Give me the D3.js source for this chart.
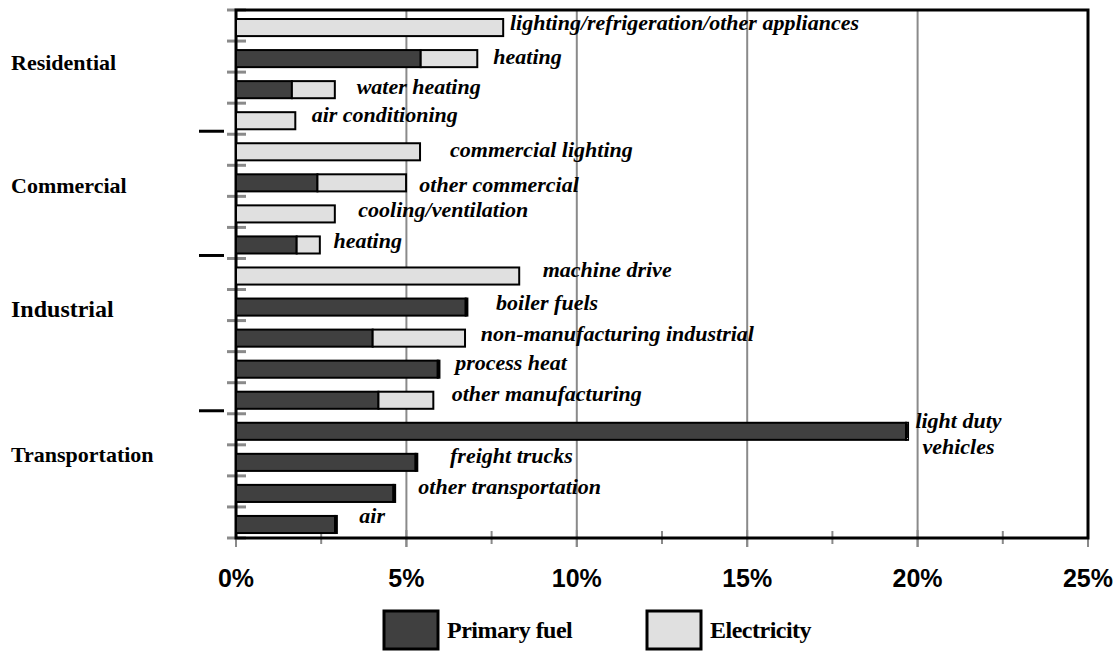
<!DOCTYPE html>
<html>
<head>
<meta charset="utf-8">
<script src="https://cdn.jsdelivr.net/npm/d3@7"></script>
<style>
  body { margin: 0; background: #fff; }
  svg { display: block; }
</style>
</head>
<body>
<svg id="chart" width="1120" height="654"></svg>
<script>
// end-use shares of total energy, percent
var sectors = ['Residential', 'Commercial', 'Industrial', 'Transportation'];
var sectorSize = [4, 4, 5, 4];
var uses = ['lighting/refrigeration/other appliances', 'heating', 'water heating', 'air conditioning',
  'commercial lighting', 'other commercial', 'cooling/ventilation', 'heating',
  'machine drive', 'boiler fuels', 'non-manufacturing industrial', 'process heat', 'other manufacturing',
  'light duty vehicles', 'freight trucks', 'other transportation', 'air'];
var primary = [0, 5.42, 1.64, 0, 0, 2.39, 0, 1.78, 0, 6.74, 4.01, 5.92, 4.18, 19.66, 5.27, 4.62, 2.91];
var electricity = [7.84, 1.66, 1.26, 1.74, 5.4, 2.6, 2.9, 0.68, 8.31, 0.05, 2.71, 0.05, 1.61, 0.06, 0.05, 0.05, 0.05];
var xTicks = [0, 5, 10, 15, 20, 25];
var xMinor = [2.5, 7.5, 12.5, 17.5, 22.5];
var series = ['Primary fuel', 'Electricity'];

// where the annotation text starts (in % units) and vertical nudge in px
var labelAt = [8.04, 7.55, 3.54, 2.22, 6.28, 5.38, 3.59, 2.86, 9.0, 7.63, 7.18, 6.43, 6.33, 21.2, 6.28, 5.35, 3.62];
var labelNudge = [4, 7, 6, 3, 7, 11, 5, 5, 3, 5, 5, 3, 3, -1, 3, 2.5, 1];
var sectorNudge = [-2, -3, -19, -14];

var svg = d3.select('#chart'),
  pLeft = 236, pRight = 1088, pTop = 10, pBottom = 538,
  dark = '#404040', light = '#e0e0e0', grey = '#8a8a8a';

var x = d3.scaleLinear().domain([0, 25]).range([pLeft, pRight]);
var idx = d3.range(uses.length);
var y = d3.scaleBand().domain(idx).range([pTop, pBottom]).padding(0);
var bw = y.bandwidth();

// grid lines
svg.selectAll('.grid').data(xTicks.slice(1, -1)).enter().append('line')
  .attr('x1', d => x(d)).attr('x2', d => x(d))
  .attr('y1', pTop).attr('y2', pBottom + 9)
  .attr('stroke', grey).attr('stroke-width', 2);

// bottom ticks
svg.selectAll('.mt').data(xTicks).enter().append('line')
  .attr('x1', d => x(d)).attr('x2', d => x(d))
  .attr('y1', pBottom - 8).attr('y2', pBottom + 9)
  .attr('stroke', grey).attr('stroke-width', 2);
svg.selectAll('.mn').data(xMinor).enter().append('line')
  .attr('x1', d => x(d)).attr('x2', d => x(d))
  .attr('y1', pBottom - 7).attr('y2', pBottom + 6)
  .attr('stroke', grey).attr('stroke-width', 2);

// left ticks at category boundaries
svg.selectAll('.lt').data(d3.range(uses.length + 1)).enter().append('line')
  .attr('x1', pLeft - 9).attr('x2', pLeft + 10)
  .attr('y1', d => pTop + d * bw).attr('y2', d => pTop + d * bw)
  .attr('stroke', grey).attr('stroke-width', 3);

// frame
svg.append('path')
  .attr('d', 'M' + pLeft + ',' + pTop + 'H' + pRight + 'V' + pBottom + 'H' + pLeft + 'Z')
  .attr('fill', 'none').attr('stroke', '#000').attr('stroke-width', 3);

// bars
var rows = svg.selectAll('.row').data(idx).enter().append('g');
rows.filter(i => primary[i] > 0).append('rect')
  .attr('x', x(0)).attr('y', i => y(i) + bw * 0.29)
  .attr('width', i => x(primary[i]) - x(0)).attr('height', bw * 0.55)
  .attr('fill', dark).attr('stroke', '#000').attr('stroke-width', 2);
rows.filter(i => electricity[i] > 0).append('rect')
  .attr('x', i => x(primary[i])).attr('y', i => y(i) + bw * 0.29)
  .attr('width', i => x(primary[i] + electricity[i]) - x(primary[i])).attr('height', bw * 0.55)
  .attr('fill', light).attr('stroke', '#000').attr('stroke-width', 2);

// annotations
rows.each(function (i) {
  var t = d3.select(this).append('text')
    .attr('font-family', '"Liberation Serif", "Times New Roman", serif')
    .attr('font-size', 22).attr('font-weight', 'bold').attr('font-style', 'italic')
    .attr('x', x(labelAt[i]))
    .attr('y', y(i) + bw / 2 + labelNudge[i]);
  if (uses[i] == 'light duty vehicles') {
    t.attr('text-anchor', 'middle');
    t.append('tspan').attr('x', x(labelAt[i])).text('light duty');
    t.append('tspan').attr('x', x(labelAt[i])).attr('dy', 26).text('vehicles');
  } else {
    t.text(uses[i]);
  }
});

// sector labels and separators
var start = 0;
sectors.forEach(function (s, k) {
  var y0 = pTop + start * bw, y1 = pTop + (start + sectorSize[k]) * bw;
  svg.append('text')
    .attr('x', 11).attr('y', (y0 + y1) / 2 + sectorNudge[k])
    .attr('font-family', '"Liberation Serif", "Times New Roman", serif')
    .attr('font-size', s == 'Industrial' ? 24 : 22).attr('font-weight', 'bold')
    .text(s);
  if (k < sectors.length - 1) {
    svg.append('line')
      .attr('x1', 199).attr('x2', 224).attr('y1', y1 - 3).attr('y2', y1 - 3)
      .attr('stroke', '#000').attr('stroke-width', 3);
  }
  start += sectorSize[k];
});

// x tick labels
svg.selectAll('.xl').data(xTicks).enter().append('text')
  .attr('x', d => x(d)).attr('y', 587)
  .attr('text-anchor', 'middle')
  .attr('font-family', '"Liberation Sans", Arial, sans-serif')
  .attr('font-size', 25).attr('font-weight', 'bold')
  .text(d => d + '%');

// legend
var lx = [384, 647];
series.forEach(function (s, k) {
  svg.append('rect')
    .attr('x', lx[k]).attr('y', 611).attr('width', 54).attr('height', 38)
    .attr('fill', k == 0 ? dark : light).attr('stroke', '#000').attr('stroke-width', 3);
  svg.append('text')
    .attr('x', lx[k] + 63).attr('y', 638)
    .attr('font-family', '"Liberation Serif", "Times New Roman", serif')
    .attr('font-size', 24).attr('font-weight', 'bold')
    .attr('letter-spacing', -0.5)
    .text(s);
});
</script>
</body>
</html>
